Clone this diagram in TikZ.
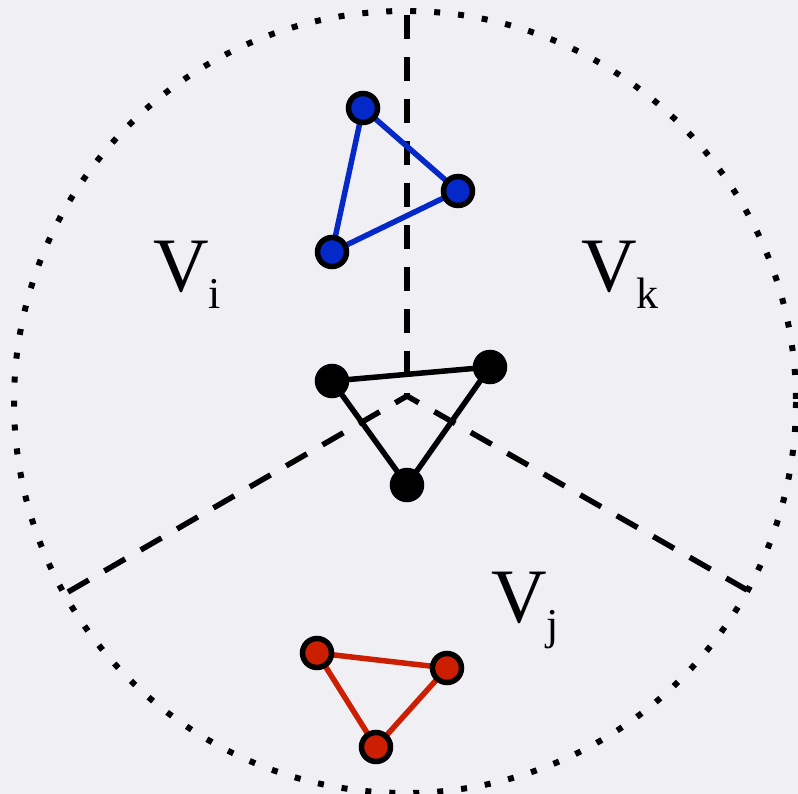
\documentclass[tikz,border=0pt]{standalone}
\usepackage{fontspec}
\setmainfont{Liberation Serif}
\definecolor{paper}{RGB}{240,239,244}
\definecolor{vblue}{RGB}{5,40,200}
\definecolor{vred}{RGB}{204,30,0}
\pgfdeclarelayer{bg}
\pgfdeclarelayer{edges}
\pgfsetlayers{bg,edges,main}
\tikzset{
  vtx/.style={circle, draw=black, line width=5.5pt, minimum size=29pt, inner sep=0pt},
  edgeline/.style={line width=5.5pt},
  part/.style={line width=5.5pt, dash pattern=on 24pt off 18pt},
  rim/.style={line width=6pt, dash pattern=on 6pt off 18pt},
  lab/.style={anchor=base west, inner sep=0pt, font=\fontsize{77}{80}\selectfont},
}
\newcommand{\subl}[1]{\raisebox{-17pt}{\fontsize{44}{46}\selectfont #1}}
\begin{document}
\begin{tikzpicture}[x=1pt,y=-1pt]
\useasboundingbox (0,0) rectangle (798,794);
% labels
\node[lab] (vi) at (153,292) {V\subl{i}};
\node[lab] (vk) at (581,292) {V\subl{k}};
\node[lab] (vj) at (491,622) {V\subl{j}};
% blue triangle
\node[vtx, fill=vblue] (b1) at (363,108) {};
\node[vtx, fill=vblue] (b2) at (458,191) {};
\node[vtx, fill=vblue] (b3) at (332,252) {};
% black triangle
\node[vtx, fill=black] (k1) at (332,381) {};
\node[vtx, fill=black] (k2) at (490,367) {};
\node[vtx, fill=black] (k3) at (407,485) {};
% red triangle
\node[vtx, fill=vred] (r1) at (317,653) {};
\node[vtx, fill=vred] (r2) at (447,668) {};
\node[vtx, fill=vred] (r3) at (376,747) {};
\begin{pgfonlayer}{bg}
\fill[paper] (0,0) rectangle (798,794);
\coordinate (cc) at (405,402);
\draw[rim] (cc) circle (391);
\coordinate (ctr) at (407,396);
\coordinate (top) at (407,15);
\coordinate (lft) at (68,592);
\coordinate (rgt) at (747,590);
\draw[part] (top) -- (ctr);
\draw[part] (lft) -- (ctr);
\draw[part] (rgt) -- (ctr);
\end{pgfonlayer}
\begin{pgfonlayer}{edges}
\draw[edgeline, vblue] (b1.center) -- (b2.center) -- (b3.center) -- cycle;
\draw[edgeline, black] (k1.center) -- (k2.center) -- (k3.center) -- cycle;
\draw[edgeline, vred] (r1.center) -- (r2.center) -- (r3.center) -- cycle;
\end{pgfonlayer}
\end{tikzpicture}
\end{document}
